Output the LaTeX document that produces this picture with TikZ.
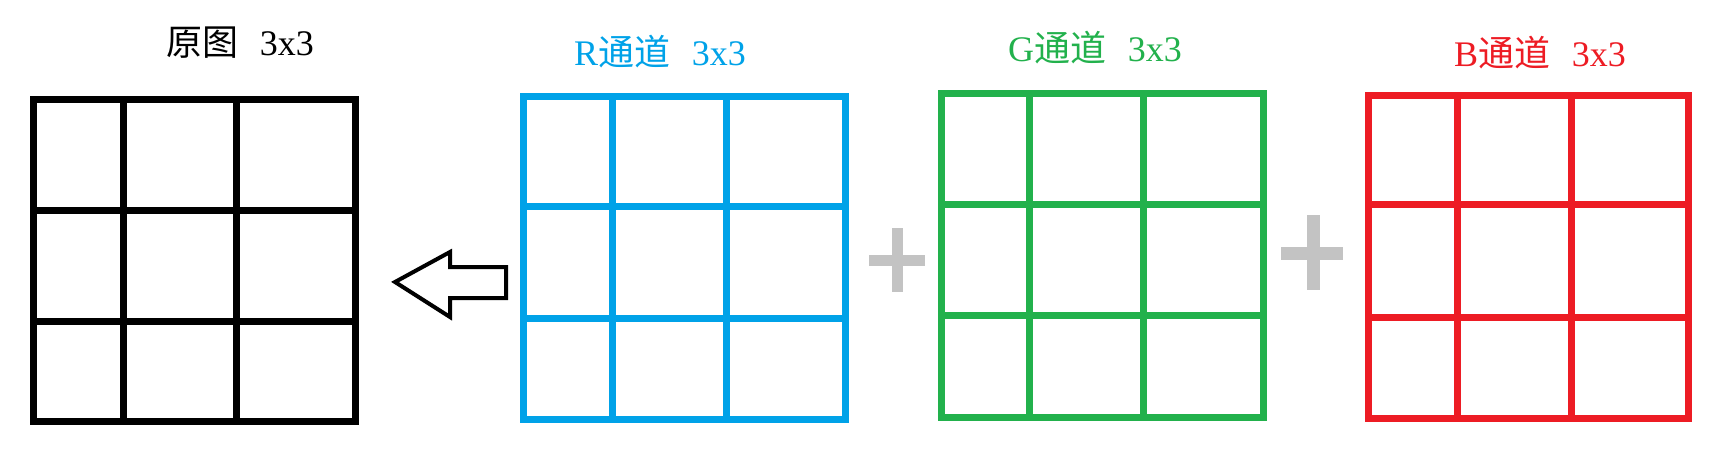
\documentclass[tikz,border=0pt]{standalone}
\usepackage{fontspec}
\setmainfont{Liberation Serif}
\newfontfamily\cjk{Noto Sans CJK SC}
\definecolor{paintblue}{HTML}{00A2E8}
\definecolor{paintgreen}{HTML}{22B14C}
\definecolor{paintred}{HTML}{ED1C24}
\definecolor{paintgrey}{HTML}{C3C3C3}
\tikzset{
  cell/.style={line width=7pt},
  plusbar/.style={paintgrey, line width=11pt},
  lbl/.style={font=\fontsize{36}{36}\selectfont}
}
\begin{document}
\begin{tikzpicture}[x=1pt, y=-1pt]
\useasboundingbox (0,0) rectangle (1722,474);
% labels
\node[lbl] (lbl0) at (240,43){{\cjk 原图}\hspace{0.6em}3x3};
\node[lbl, paintblue] (lblR) at (660,52){R{\cjk 通道}\hspace{0.6em}3x3};
\node[lbl, paintgreen] (lblG) at (1095,48){G{\cjk 通道}\hspace{0.6em}3x3};
\node[lbl, paintred] (lblB) at (1540,53){B{\cjk 通道}\hspace{0.6em}3x3};
% original
\draw[cell] (33.5,99.5) rectangle (355,421.5);
\draw[cell] (123,99.5) -- (123,421.5);
\draw[cell] (236,99.5) -- (236,421.5);
\draw[cell] (33.5,210) -- (355,210);
\draw[cell] (33.5,321) -- (355,321);
% arrow
\draw[line width=4pt, line join=miter] (395,282) -- (450,252) -- (450,267) -- (506,267)
  -- (506,298) -- (450,298) -- (450,317) -- cycle;
% R
\draw[cell, paintblue] (523,96) rectangle (845,419);
\draw[cell, paintblue] (612,96) -- (612,419);
\draw[cell, paintblue] (726,96) -- (726,419);
\draw[cell, paintblue] (523,206) -- (845,206);
\draw[cell, paintblue] (523,318) -- (845,318);
% plus
\draw[plusbar] (869,260) -- (925,260);
\draw[plusbar] (897,228) -- (897,292);
% G
\draw[cell, paintgreen] (941,93) rectangle (1263,417);
\draw[cell, paintgreen] (1029,93) -- (1029,417);
\draw[cell, paintgreen] (1143,93) -- (1143,417);
\draw[cell, paintgreen] (941,204) -- (1263,204);
\draw[cell, paintgreen] (941,315) -- (1263,315);
% plus
\draw[plusbar, line width=13pt] (1281,253) -- (1343,253);
\draw[plusbar, line width=13pt] (1313,215) -- (1313,290);
% B
\draw[cell, paintred] (1368,95) rectangle (1688,418);
\draw[cell, paintred] (1457,95) -- (1457,418);
\draw[cell, paintred] (1571,95) -- (1571,418);
\draw[cell, paintred] (1368,204) -- (1688,204);
\draw[cell, paintred] (1368,317) -- (1688,317);
\end{tikzpicture}
\end{document}
